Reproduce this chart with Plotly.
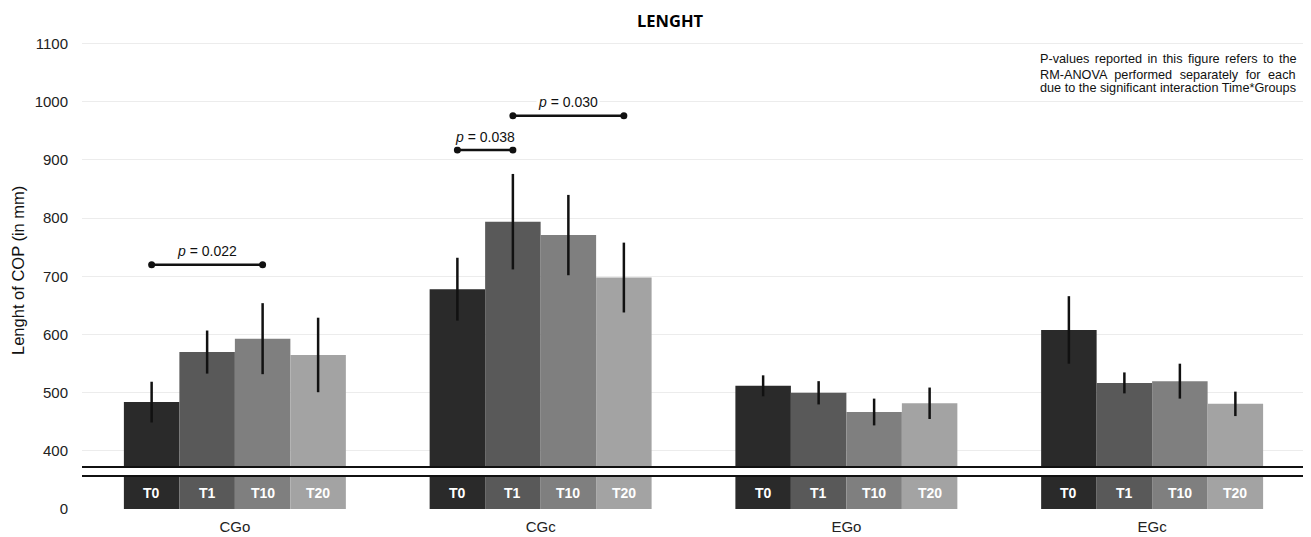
import plotly.graph_objects as go

# ---------------- data ----------------
groups = ["CGo", "CGc", "EGo", "EGc"]
times = ["T0", "T1", "T10", "T20"]
mean_T0 = [484, 678, 512, 608]
mean_T1 = [570, 794, 500, 517]
mean_T10 = [593, 771, 467, 520]
mean_T20 = [565, 698, 482, 481]
err_T0 = [35, 54, 18, 58]
err_T1 = [37, 82, 20, 18]
err_T10 = [61, 69, 23, 30]
err_T20 = [64, 60, 27, 21]
means = [mean_T0, mean_T1, mean_T10, mean_T20]
errs = [err_T0, err_T1, err_T10, err_T20]
colors = ["#2a2a2a", "#595959", "#7f7f7f", "#a3a3a3"]
yticks_top = [400, 500, 600, 700, 800, 900, 1000, 1100]
# significance brackets: (group, time from, time to, bracket height, p-value)
br_group = ["CGo", "CGc", "CGc"]
br_from = ["T0", "T0", "T1"]
br_to = ["T10", "T1", "T20"]
br_y = [720, 917, 976]
br_p = ["0.022", "0.038", "0.030"]
note_lines = [
    "P-values reported in this figure refers to the",
    "RM-ANOVA performed separately for each",
    "due to the significant interaction Time*Groups",
]
note_extra_gap_px = [1.9, 4.0, 0.0]   # justification padding per word gap

# ---------------- layout constants ----------------
OFF = 8                      # page body margin offset
W, H = 1311 - OFF, 537 - OFF
ML, MR, MT, MB = 82 - OFF, 6, 32 - OFF, 28
PW = W - ML - MR
PH = H - MT - MB
BARGAP = 0.274
FONT = "Liberation Sans, Arial, sans-serif"
NOTE_SIZE = 12.7


def px_x(rx):
    return (rx - OFF - ML) / PW


def px_y(ry):
    return (H - MB - (ry - OFF)) / PH


top_dom = [px_y(467), 1.0]
bot_dom = [0.0, px_y(476)]

gx = list(range(len(groups)))
bw = (1 - BARGAP) / len(times)


def bar_x(group, time):
    gi = groups.index(group)
    k = times.index(time)
    return gi - (1 - BARGAP) / 2 + (k + 0.5) * bw


def justify(line, extra_px):
    if extra_px <= 0:
        return line
    sz = extra_px / 0.278
    pad = '<span style="font-size:%.1fpx">&nbsp;</span>' % sz
    return (" " + pad).join(line.split(" "))


fig = go.Figure()
for k, t in enumerate(times):
    fig.add_trace(go.Bar(
        x=gx, y=means[k], name=t, marker=dict(color=colors[k], line=dict(width=0)),
        error_y=dict(type="data", array=errs[k], color="#111111", thickness=2.5, width=0),
        xaxis="x", yaxis="y", showlegend=False,
    ))
for k, t in enumerate(times):
    fig.add_trace(go.Bar(
        x=gx, y=means[k], name=t, marker=dict(color=colors[k], line=dict(width=0)),
        xaxis="x", yaxis="y2", showlegend=False, hoverinfo="skip",
    ))

annotations = []
# T labels in the lower panel
for g in groups:
    for t in times:
        annotations.append(dict(
            x=bar_x(g, t), y=30, xref="x", yref="y2", text="<b>%s</b>" % t,
            xanchor="center", yanchor="middle",
            showarrow=False, font=dict(family=FONT, size=14, color="white"),
        ))

# brackets
for g, a, b, yv, p in zip(br_group, br_from, br_to, br_y, br_p):
    xa, xb = bar_x(g, a), bar_x(g, b)
    fig.add_trace(go.Scatter(
        x=[xa, xb], y=[yv, yv], mode="lines+markers", xaxis="x", yaxis="y",
        line=dict(color="#111111", width=2.5), marker=dict(color="#111111", size=7),
        showlegend=False, hoverinfo="skip",
    ))
    annotations.append(dict(
        x=(xa + xb) / 2, y=yv, xref="x", yref="y", yshift=13.5,
        xanchor="center", yanchor="middle",
        text="<i>p</i> = %s" % p, showarrow=False, bgcolor="white",
        font=dict(family=FONT, size=14, color="#111111"),
    ))

# title
annotations.append(dict(
    x=px_x(670), y=px_y(20), xref="paper", yref="paper", text="<b>LENGHT</b>",
    xanchor="center", yanchor="middle",
    showarrow=False, font=dict(family="Open Sans, sans-serif", size=16.5, color="#000000"),
))
# y axis title
annotations.append(dict(
    x=px_x(18), y=px_y(271), xref="paper", yref="paper", text="Lenght of COP (in mm)",
    xanchor="center", yanchor="middle",
    textangle=-90, showarrow=False, font=dict(family=FONT, size=16.5, color="#111111"),
))
# note
for i, line in enumerate(note_lines):
    annotations.append(dict(
        x=px_x(1038), y=px_y(59 + 14.5 * i), xref="paper", yref="paper",
        text=justify(line, note_extra_gap_px[i]),
        xanchor="left", yanchor="middle", showarrow=False,
        font=dict(family=FONT, size=NOTE_SIZE, color="#111111"),
    ))

shapes = []
for py in (467, 476):
    shapes.append(dict(type="line", xref="paper", yref="paper",
                       x0=0, x1=px_x(1309), y0=px_y(py), y1=px_y(py),
                       line=dict(color="#111111", width=2)))

axis_common = dict(showline=False, zeroline=False, automargin=False,
                   ticks="outside", tickcolor="rgba(0,0,0,0)",
                   tickfont=dict(family=FONT, size=15, color="#222222"))

fig.update_layout(
    width=W, height=H, margin=dict(l=ML, r=MR, t=MT, b=MB, autoexpand=False),
    plot_bgcolor="white", paper_bgcolor="white",
    barmode="group", bargap=BARGAP, bargroupgap=0,
    font=dict(family=FONT, size=15, color="#222222"),
    xaxis=dict(anchor="y2", range=[-0.5, 3.5], tickvals=gx, ticktext=groups,
               showgrid=False, ticklen=4, **axis_common),
    yaxis=dict(domain=top_dom, range=[372.5, 1119.9], tickvals=yticks_top,
               showgrid=True, gridcolor="#ececec", gridwidth=1, ticklen=10,
               **axis_common),
    yaxis2=dict(domain=bot_dom, range=[0, 60], tickvals=[0], ticktext=["0"],
                showgrid=True, gridcolor="#ececec", gridwidth=1, ticklen=10,
                **axis_common),
    annotations=annotations, shapes=shapes,
)

fig.write_html("out.html")
